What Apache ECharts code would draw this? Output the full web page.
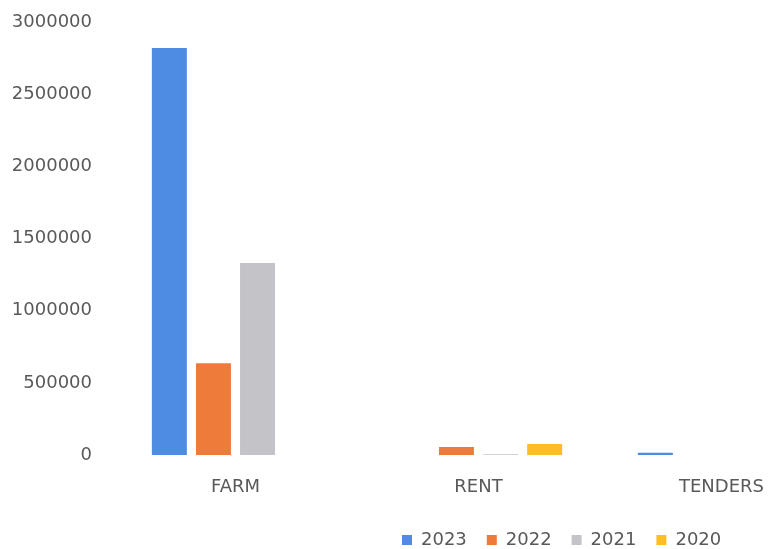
<!DOCTYPE html>
<html><head><meta charset="utf-8">
<script src="https://cdn.jsdelivr.net/npm/echarts@6/dist/echarts.min.js"></script>
<style>html,body{margin:0;padding:0;background:#fff}#c{width:768px;height:549px}</style>
</head><body><div id="c"></div>
<script>
const categories = ['FARM', 'RENT', 'TENDERS'];
const years = ['2023', '2022', '2021', '2020'];
const s2023 = [2820000, 0, 15000];
const s2022 = [635000, 55000, 0];
const s2021 = [1330000, 5000, 0];
const s2020 = [0, 76000, 0];
const yTicks = [0, 500000, 1000000, 1500000, 2000000, 2500000, 3000000];
const colors = ['#4E8BE3', '#EE7B3A', '#C4C3C7', '#FDBE22'];
const values = [s2023, s2022, s2021, s2020];

const chart = echarts.init(document.getElementById('c'));
const font = 'DejaVu Sans';
chart.setOption({
  animation: false,
  color: colors,
  legend: {
    data: years, left: 397, top: 526, itemWidth: 10, itemHeight: 10, itemGap: 20,
    icon: 'rect',
    textStyle: { fontFamily: font, fontSize: 18, color: '#595959', padding: [0, 0, 0, 4] }
  },
  grid: { left: 114, top: 22, width: 729, height: 433, containLabel: false, outerBoundsMode: 'none' },
  xAxis: {
    type: 'category', data: categories,
    axisLine: { show: false }, axisTick: { show: false },
    axisLabel: { margin: 23, fontFamily: font, fontSize: 18, color: '#595959' }
  },
  yAxis: {
    type: 'value', min: yTicks[0], max: yTicks[yTicks.length - 1], interval: 500000,
    axisLine: { show: false }, axisTick: { show: false }, splitLine: { show: false },
    axisLabel: { margin: 22, fontFamily: font, fontSize: 18, color: '#595959', formatter: v => String(v) }
  },
  series: years.map((y, i) => ({
    name: y, type: 'bar', data: values[i], barWidth: 35, barGap: '26%',
    itemStyle: { color: colors[i] }
  }))
});
</script></body></html>
